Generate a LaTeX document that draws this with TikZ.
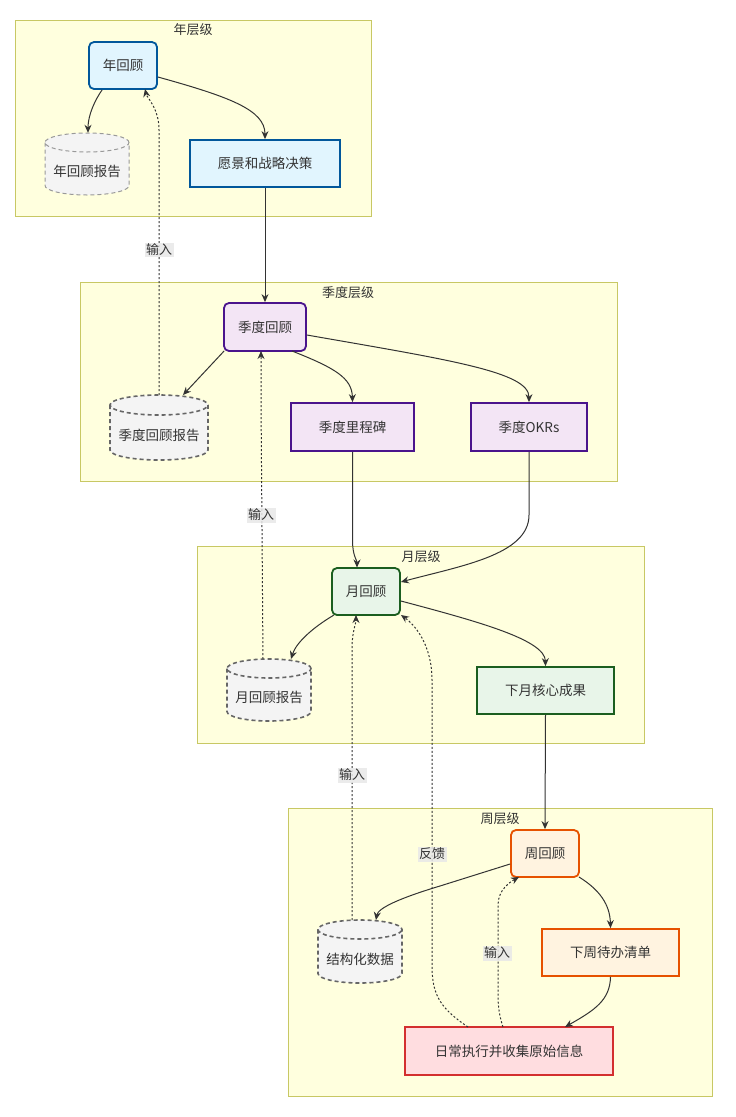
\documentclass[tikz,border=0pt]{standalone}
\usepackage{fontspec}
\setmainfont{Noto Sans CJK SC}
\usetikzlibrary{arrows.meta}
\definecolor{clfill}{HTML}{FFFFDE}
\definecolor{clline}{HTML}{C8C864}
\definecolor{yfill}{HTML}{E1F5FE}\definecolor{yline}{HTML}{01579B}
\definecolor{qfill}{HTML}{F3E5F5}\definecolor{qline}{HTML}{4A148C}
\definecolor{mfill}{HTML}{E8F5E9}\definecolor{mline}{HTML}{1B5E20}
\definecolor{wfill}{HTML}{FFF3E0}\definecolor{wline}{HTML}{E65100}
\definecolor{dfill}{HTML}{FFDDE0}\definecolor{dline}{HTML}{D32F2F}
\definecolor{cfill}{HTML}{F4F4F4}\definecolor{cline}{HTML}{666666}
\definecolor{clight}{HTML}{999999}
\definecolor{edge}{HTML}{333333}
\definecolor{txt}{HTML}{333333}
\definecolor{lblbg}{HTML}{E8E8E8}
\newcommand\mycyl[8]{% style, name, cx, cy, w, h, ry, text
  \path (#3,#4) node[minimum width=#5pt, minimum height=#6pt, inner sep=0pt] (#2) {};
  \filldraw[#1] ({#3-#5/2},{#4-#6/2+#7}) -- ({#3-#5/2},{#4+#6/2-#7})
    arc[start angle=180,end angle=360,x radius=#5/2*1pt,y radius=#7*1pt]
    -- ({#3+#5/2},{#4-#6/2+#7})
    arc[start angle=0,end angle=180,x radius=#5/2*1pt,y radius=#7*1pt]
    arc[start angle=180,end angle=360,x radius=#5/2*1pt,y radius=#7*1pt];
  \node[txtnode] at (#3,{#4+#7*0.8}) {#8};
}
\tikzset{
  cluster/.style={fill=clfill, draw=clline, line width=1pt},
  cltitle/.style={text=txt, font=\fontsize{13}{15}\selectfont, inner sep=0pt},
  txtnode/.style={text=txt, font=\fontsize{13.5}{16}\selectfont, inner sep=0pt},
  rbox/.style={rounded corners=5pt, line width=1.8pt, inner sep=0pt, text=txt, font=\fontsize{13.5}{16}\selectfont},
  sbox/.style={line width=1.8pt, inner sep=0pt, text=txt, font=\fontsize{13.5}{16}\selectfont},
  cylbox/.style={fill=cfill, draw=cline, line width=1.6pt, dash pattern=on 4pt off 3pt},
  cyllight/.style={fill=cfill, draw=clight, line width=1pt, dash pattern=on 4pt off 3pt},
  arr/.style={draw=edge, line width=1pt, -{Stealth[length=8pt,width=7pt]}},
  dotarr/.style={arr, dash pattern=on 2pt off 2pt},
  lbl/.style={fill=lblbg, fill opacity=0.85, text opacity=1, text=txt, font=\fontsize{13}{15}\selectfont, inner sep=1.5pt}
}
\begin{document}
\begin{tikzpicture}[x=1pt,y=-1pt]
\useasboundingbox (0,0) rectangle (736,1117);
% clusters
\draw[cluster] (15,20) rectangle (371,216);
\node[cltitle] (t1) at (193,30) {年层级};
\draw[cluster] (80,282) rectangle (617,481);
\node[cltitle] (t2) at (348,293) {季度层级};
\draw[cluster] (197,546) rectangle (644,743);
\node[cltitle] (t3) at (421,557) {月层级};
\draw[cluster] (288,808) rectangle (712,1096);
\node[cltitle] (t4) at (500,819) {周层级};

% nodes
\node[rbox, fill=yfill, draw=yline, minimum width=68pt, minimum height=47pt] (yr) at (123,65.5) {年回顾};
\mycyl{cyllight}{yrr}{87}{164}{84}{62}{9.5}{年回顾报告}
\node[sbox, fill=yfill, draw=yline, minimum width=150pt, minimum height=47pt] (vis) at (265,163.5) {愿景和战略决策};

\node[rbox, fill=qfill, draw=qline, minimum width=82pt, minimum height=48pt] (qr) at (265,327) {季度回顾};
\mycyl{cylbox}{qrr}{159}{427.5}{98}{65}{10}{季度回顾报告}
\node[sbox, fill=qfill, draw=qline, minimum width=123pt, minimum height=48pt] (qm) at (352.5,427) {季度里程碑};
\node[sbox, fill=qfill, draw=qline, minimum width=116pt, minimum height=48pt] (okr) at (529,427) {季度OKRs};

\node[rbox, fill=mfill, draw=mline, minimum width=68pt, minimum height=47pt] (mr) at (366,591.5) {月回顾};
\mycyl{cylbox}{mrr}{269}{690}{84}{62}{9.5}{月回顾报告}
\node[sbox, fill=mfill, draw=mline, minimum width=137pt, minimum height=47pt] (nm) at (545.5,690.5) {下月核心成果};

\node[rbox, fill=wfill, draw=wline, minimum width=68pt, minimum height=47pt] (wr) at (545,853.5) {周回顾};
\mycyl{cylbox}{sd}{360}{951.5}{84}{63}{9.5}{结构化数据}
\node[sbox, fill=wfill, draw=wline, minimum width=137pt, minimum height=47pt] (todo) at (610.5,952.5) {下周待办清单};
\node[sbox, fill=dfill, draw=dline, minimum width=208pt, minimum height=48pt] (daily) at (509,1051) {日常执行并收集原始信息};

% solid edges
\draw[arr] (yr.south west)++(14,0) coordinate (a1) .. controls (95,100) and (88,115) .. (yrr.north -| 88,0);
\draw[arr] (yr.east |- 0,77) .. controls (230,97) and (265,110) .. (vis.north);
\draw[arr] (vis.south) -- (qr.north);
\draw[arr] (qr.south west |- 0,351) ++(1,0) -- (183,395);
\draw[arr] (292,351) .. controls (335,368) and (352,378) .. (qm.north);
\draw[arr] (qr.east |- 0,335) .. controls (450,360) and (529,372) .. (okr.north);
\draw[arr] (qm.south) -- (352.5,540) .. controls (352.5,556) and (357,560) .. (357,567.5);
\draw[arr] (okr.south) -- (529,515) .. controls (529,555) and (460,566) .. (mr.east |- 0,582);
\draw[arr] (334,615) .. controls (312,628) and (296,643) .. (291,659);
\draw[arr] (mr.east |- 0,601) .. controls (480,622) and (545,640) .. (nm.north);
\draw[arr] (nm.south) -- (wr.north);
\draw[arr] (wr.west |- 0,864) -- (440,886) .. controls (400,898) and (378,908) .. (376,920);
\draw[arr] (579,877) .. controls (600,890) and (610,905) .. (todo.north);
\draw[arr] (todo.south) .. controls (610,1000) and (595,1010) .. (565,1027);

% dotted edges
\draw[dotarr] (159,395) -- (159,130) .. controls (159,108) and (147,98) .. (145,89);
\node[lbl] (l1) at (159,250) {输入};
\draw[dotarr] (263,659) -- (261,400) -- (261,351);
\node[lbl] (l2) at (261,515) {输入};
\draw[dotarr] (352,920) -- (352,650) .. controls (352,630) and (356,625) .. (356,615);
\node[lbl] (l3) at (352,775) {输入};
\draw[dotarr] (468,1027) .. controls (440,1008) and (432,995) .. (432,965) -- (432,680) .. controls (432,645) and (415,625) .. (401,615);
\node[lbl] (l4) at (432,854) {反馈};
\draw[dotarr] (503,1027) .. controls (498,1012) and (498,1002) .. (498,990) -- (498,905) .. controls (498,890) and (510,882) .. (519,877);
\node[lbl] (l5) at (497,953) {输入};
\end{tikzpicture}
\end{document}
